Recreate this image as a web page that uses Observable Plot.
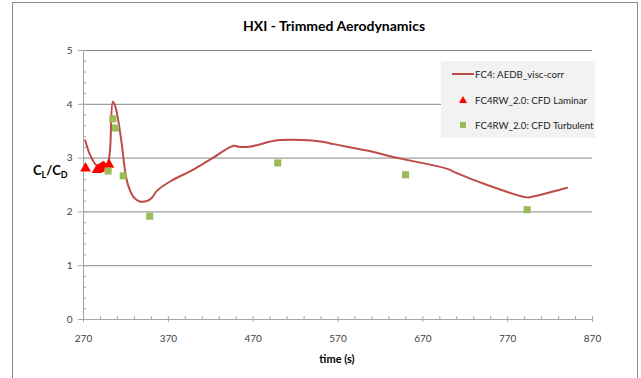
<!DOCTYPE html>
<html>
<head>
<meta charset="utf-8">
<script src="https://cdn.jsdelivr.net/npm/d3@7"></script>
<script src="https://cdn.jsdelivr.net/npm/@observablehq/plot@0.6"></script>
<style>
  html, body { margin: 0; padding: 0; background: #fff; }
  #wrap { position: relative; width: 641px; height: 378px; overflow: hidden; font-family: Lato, "Open Sans", sans-serif; }
  #chart { position: absolute; left: 0; top: 0; }
  .border { position: absolute; left: 12px; top: 2px; width: 626px; height: 420px; border: 1px solid #8c8c8c; box-sizing: border-box; }
  .title { position: absolute; left: 184px; width: 300px; top: 17px; text-align: center; font-weight: bold; font-size: 14px; color: #000; }
  .ylab { position: absolute; left: 33px; top: 162px; font-weight: bold; font-size: 13px; color: #000; }
  .ylab sub { font-size: 9px; vertical-align: -3px; }
  .xlab { position: absolute; left: 287px; width: 100px; top: 352px; text-align: center; font-weight: bold; font-size: 11px; color: #000; }
  .legend { position: absolute; left: 441px; top: 61px; width: 154px; height: 77px; background: #f2f2f2; font-size: 9.7px; color: #222; }
  .legend .row { position: absolute; left: 0; height: 14px; line-height: 14px; }
  .legend .txt { position: absolute; left: 34px; white-space: nowrap; }
</style>
</head>
<body>
<div id="wrap">
  <div class="border"></div>
  <div id="chart"></div>
  <div class="title">HXI - Trimmed Aerodynamics</div>
  <div class="ylab">C<sub>L</sub>/C<sub>D</sub></div>
  <div class="xlab">time (s)</div>
  <div class="legend" id="legend"></div>
</div>
<script>
// AEDB line (FC4: AEDB_visc-corr)
const lineTime = [272, 278, 286, 292, 298, 301, 304.6, 307.7, 311.6, 315.6, 319.5, 323.4, 329.3, 337, 347, 351, 357, 372.6, 400, 420, 447, 453, 465, 498, 518, 549, 565, 604, 644, 699, 710, 746, 793, 801, 840];
const lineVal  = [3.33, 3.05, 2.86, 2.91, 2.89, 3.1, 4.05, 3.95, 3.64, 3.20, 2.71, 2.46, 2.27, 2.19, 2.22, 2.27, 2.40, 2.57, 2.79, 2.98, 3.23, 3.21, 3.21, 3.33, 3.34, 3.31, 3.26, 3.14, 2.99, 2.80, 2.72, 2.50, 2.27, 2.29, 2.45];
// CFD Laminar
const lamTime = [272.4, 286, 289, 292, 294, 300];
const lamVal  = [2.81, 2.78, 2.80, 2.83, 2.84, 2.88];
// CFD Turbulent
const turbTime = [299, 304.6, 307.7, 316.8, 348, 499, 649.6, 793];
const turbVal  = [2.76, 3.73, 3.56, 2.67, 1.92, 2.91, 2.69, 2.04];
// Ticks
const xTicks = [270, 370, 470, 570, 670, 770, 870];
const xMinor = d3.range(270, 871, 20);
const yTicks = [0, 1, 2, 3, 4, 5];
const yMinor = d3.range(0, 5.001, 0.2).map(v => +v.toFixed(1));
const seriesNames = ["FC4: AEDB_visc-corr", "FC4RW_2.0: CFD Laminar", "FC4RW_2.0: CFD Turbulent"];
const colors = {line: "#be4b48", lam: "#ff0000", turb: "#9bbb59"};

const lineData = lineTime.map((t, i) => ({t, v: lineVal[i]}));
const lamData = lamTime.map((t, i) => ({t, v: lamVal[i]}));
const turbData = turbTime.map((t, i) => ({t, v: turbVal[i]}));

const chart = Plot.plot({
  width: 641,
  height: 378,
  marginLeft: 83,
  marginRight: 49,
  marginTop: 50,
  marginBottom: 59,
  x: {domain: [270, 870]},
  y: {domain: [0, 5]},
  style: {fontFamily: "Lato, 'Open Sans', sans-serif", fontSize: "10px", color: "#404040", background: "transparent"},
  marks: [
    Plot.gridY([1, 2, 3, 4, 5], {stroke: "#878787", strokeOpacity: 1, strokeWidth: 1}),
    Plot.ruleX([270], {stroke: "#a6a6a6"}),
    Plot.ruleY([0], {stroke: "#a6a6a6"}),
    Plot.axisX({ticks: xMinor, tickSize: -3, tickFormat: () => "", stroke: "#a6a6a6", label: null}),
    Plot.axisX({ticks: xTicks, tickSize: 3, tickPadding: 12, tickFormat: d => String(d), stroke: "#a6a6a6", label: null}),
    Plot.axisY({ticks: yMinor, tickSize: -3, tickFormat: () => "", stroke: "#a6a6a6", label: null}),
    Plot.axisY({ticks: yTicks, tickSize: 5, tickPadding: 6, tickFormat: d => String(d), stroke: "#a6a6a6", label: null}),
    Plot.line(lineData, {x: "t", y: "v", stroke: colors.line, strokeWidth: 2, curve: "catmull-rom"}),
    Plot.dot(lamData, {x: "t", y: "v", symbol: "triangle", fill: colors.lam, r: 4}),
    Plot.dot(turbData, {x: "t", y: "v", symbol: "square", fill: colors.turb, r: 4})
  ]
});
document.getElementById("chart").appendChild(chart);

// Legend
const legend = document.getElementById("legend");
const rows = [
  {name: seriesNames[0], kind: "line", top: 6},
  {name: seriesNames[1], kind: "tri", top: 32},
  {name: seriesNames[2], kind: "sq", top: 57}
];
rows.forEach(r => {
  const row = document.createElement("div");
  row.className = "row";
  row.style.top = r.top + "px";
  row.style.width = "154px";
  let sym = "";
  if (r.kind === "line") sym = `<svg width="34" height="14" style="position:absolute;left:0;top:0"><line x1="11" x2="33" y1="7" y2="7" stroke="${colors.line}" stroke-width="2"/></svg>`;
  if (r.kind === "tri") sym = `<svg width="34" height="14" style="position:absolute;left:0;top:0"><path d="M22,3 L26,10 L18,10 Z" fill="${colors.lam}"/></svg>`;
  if (r.kind === "sq") sym = `<svg width="34" height="14" style="position:absolute;left:0;top:0"><rect x="19" y="4" width="6" height="6" fill="${colors.turb}"/></svg>`;
  row.innerHTML = sym + `<span class="txt">${r.name}</span>`;
  legend.appendChild(row);
});
</script>
</body>
</html>
